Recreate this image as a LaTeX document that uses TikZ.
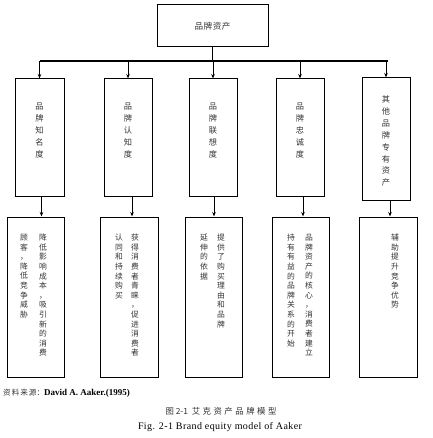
\documentclass[tikz,border=0pt]{standalone}
\usepackage{fontspec}
\setmainfont{Liberation Serif}
\newfontfamily\cjk{Noto Sans CJK SC}
\newfontfamily\figfont[LetterSpace=4]{Liberation Serif}
\usetikzlibrary{arrows.meta}
\makeatletter
\newcommand\vcol[2]{\vbox{\baselineskip=#1\relax\lineskiplimit=-20pt\@tfor\vch:=#2\do{\hbox to 10pt{\hss\vch\hss}}}}
\makeatother
\tikzset{
  box/.style={draw, line width=1pt, inner sep=0pt},
  vt/.style={anchor=north, inner sep=0pt, text=black!80, font=\cjk\fontsize{8.2}{8}\selectfont},
  vts/.style={anchor=north, inner sep=0pt, text=black!80, font=\cjk\fontsize{7.8}{8}\selectfont},
  arr/.style={line width=0.8pt, -{Stealth[length=4.5pt,width=3.5pt]}},
  bus/.style={line width=1.4pt}
}
\begin{document}
\begin{tikzpicture}[x=1pt,y=-1pt]
\useasboundingbox (0,0) rectangle (432,438);
% top
\node[box, minimum width=111, minimum height=42, font=\cjk\fontsize{8.6}{9}\selectfont, text=black!80] (top) at (212.5,26) {品\kern0.5pt 牌\kern0.5pt 资\kern0.5pt 产};
\coordinate (busc) at (212.5,61);
\coordinate (busl) at (40,61);
\coordinate (busr) at (388,61);
\draw[bus] (top.south) -- (busc);
\draw[bus] (busl) -- (busr);
% middle boxes
\node[box, minimum width=49, minimum height=117] (m1) at (39.5,137.5) {};
\node[box, minimum width=48, minimum height=117] (m2) at (128,137.5) {};
\node[box, minimum width=48, minimum height=117] (m3) at (213,137.5) {};
\node[box, minimum width=48, minimum height=117] (m4) at (300,137.5) {};
\node[box, minimum width=48, minimum height=122] (m5) at (386,139) {};
\foreach \m in {m1,m2,m3,m4,m5}{\draw[arr] (\m.north |- busl) -- (\m.north);}
\node[vt] (t1) at (39.5,102.5) {\vcol{12pt}{品牌知名度}};
\node[vt] (t2) at (128,102.5) {\vcol{12pt}{品牌认知度}};
\node[vt] (t3) at (213,102.5) {\vcol{12pt}{品牌联想度}};
\node[vt] (t4) at (300,102.5) {\vcol{12pt}{品牌忠诚度}};
\node[vt] (t5) at (386,95.5) {\vcol{11.9pt}{其他品牌专有资产}};
% bottom boxes
\node[box, minimum width=57, minimum height=160] (b1) at (35.5,297) {};
\node[box, minimum width=58, minimum height=160] (b2) at (129,297) {};
\node[box, minimum width=57, minimum height=160] (b3) at (213.5,297) {};
\node[box, minimum width=57, minimum height=160] (b4) at (300.5,297) {};
\node[box, minimum width=58, minimum height=160] (b5) at (388,297) {};
\draw[arr] ([xshift=2pt]m1.south) -- ([xshift=2pt]m1.south |- b1.north);
\draw[arr] ([xshift=4pt]m2.south) -- ([xshift=4pt]m2.south |- b2.north);
\draw[arr] ([xshift=1pt]m3.south) -- ([xshift=1pt]m3.south |- b3.north);
\draw[arr] ([xshift=3pt]m4.south) -- ([xshift=3pt]m4.south |- b4.north);
\draw[arr] ([xshift=4pt]m5.south) -- ([xshift=4pt]m5.south |- b5.north);
% bottom texts
\node[vts] (c1r) at (43,234) {\vcol{9.6pt}{降低影响成本，吸引新的消费}};
\node[vts] (c1l) at (24,234) {\vcol{9.6pt}{顾客，降低竞争威胁}};
\node[vts] (c2r) at (135,234) {\vcol{9.6pt}{获得消费者青睐，促进消费者}};
\node[vts] (c2l) at (119,234) {\vcol{9.6pt}{认同和持续购买}};
\node[vts] (c3r) at (221,234) {\vcol{9.6pt}{提供了购买理由和品牌}};
\node[vts] (c3l) at (204,234) {\vcol{9.6pt}{延伸的依据}};
\node[vts] (c4r) at (309,234) {\vcol{9.6pt}{品牌资产的核心，消费者建立}};
\node[vts] (c4l) at (291,234) {\vcol{9.6pt}{持有有益的品牌关系的开始}};
\node[vts] (c5) at (395,234) {\vcol{9.6pt}{辅助提升竞争优势}};
% captions
\node[anchor=west, inner sep=0pt] (src) at (3,393) {{\cjk\fontsize{7.6}{8}\selectfont\color{black!80}资\kern1pt 料\kern1pt 来\kern1pt 源：}{\fontsize{9}{10}\selectfont\bfseries David A. Aaker.(1995)}};
\node[inner sep=0pt, font=\cjk\fontsize{8.4}{9}\selectfont, text=black!80] (cap) at (221,411) {图 2-1\ \ 艾\kern2.5pt 克\kern2.5pt 资\kern2.5pt 产\kern2.5pt 品\kern2.5pt 牌\kern2.5pt 模\kern2.5pt 型};
\node[inner sep=0pt, font=\figfont\fontsize{10}{11}\selectfont] (fig) at (220,427) {Fig. 2-1 Brand equity model of Aaker};
\end{tikzpicture}
\end{document}
